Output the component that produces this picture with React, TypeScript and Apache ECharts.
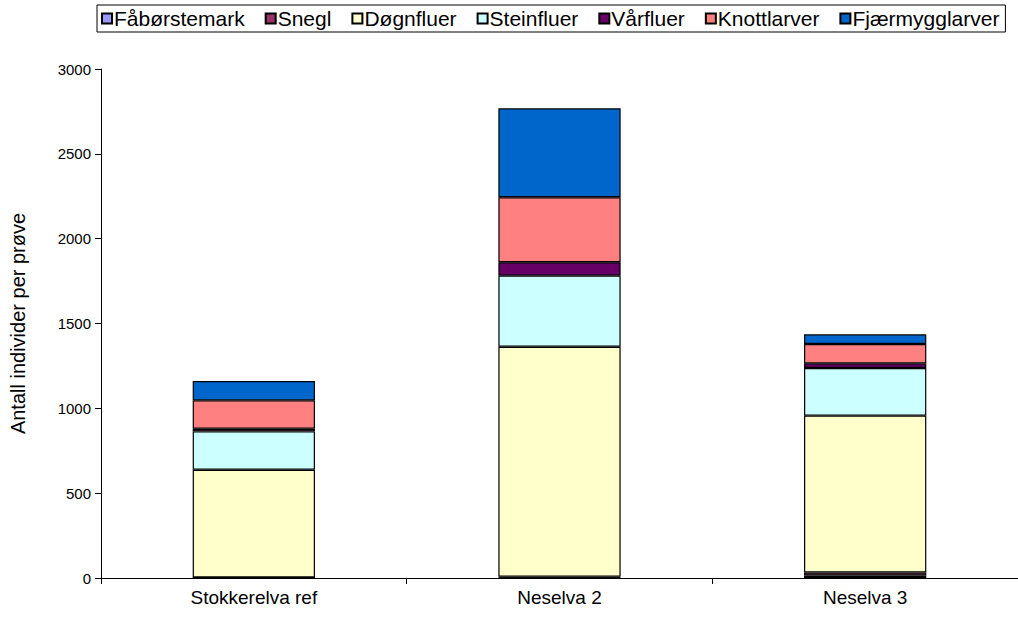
import React, { useEffect, useRef } from "react";
import * as echarts from "echarts";

const categories = ["Stokkerelva ref", "Neselva 2", "Neselva 3"];
const seriesNames = ["Fåbørstemark", "Snegl", "Døgnfluer", "Steinfluer", "Vårfluer", "Knottlarver", "Fjærmygglarver"];
const faborstemark = [1, 2, 15];
const snegl = [2, 5, 17];
const dognfluer = [635, 1356, 925];
const steinfluer = [226, 419, 281];
const varfluer = [16, 79, 27];
const knottlarver = [167, 383, 114];
const fjaermygglarver = [114, 524, 57];
const yTicks = [0, 500, 1000, 1500, 2000, 2500, 3000];

const colors = ["#9999FF", "#993366", "#FFFFCC", "#CCFFFF", "#660066", "#FF8080", "#0066CC"];
const values = [faborstemark, snegl, dognfluer, steinfluer, varfluer, knottlarver, fjaermygglarver];

export default function App() {
  const ref = useRef<HTMLDivElement>(null);
  useEffect(() => {
    if (!ref.current) return;
    const chart = echarts.init(ref.current, null, { renderer: "svg" });
    const font = "Liberation Sans, Arial, sans-serif";
    chart.setOption({
      animation: false,
      textStyle: { fontFamily: font },
      legend: {
        left: 97,
        top: 5,
        padding: [3, 6, 3, 4],
        borderColor: "#000",
        borderWidth: 1,
        icon: "rect",
        itemWidth: 10,
        itemHeight: 10,
        itemGap: 20,
        textStyle: { fontSize: 21, lineHeight: 21, color: "#000", fontFamily: font, padding: [0, 0, 0, -3] },
        data: seriesNames,
      },
      grid: { left: 101, right: -7, top: 69, bottom: 40 },
      xAxis: {
        type: "category",
        data: categories,
        axisLine: { lineStyle: { color: "#000", width: 1 } },
        axisTick: { show: true, length: 6, lineStyle: { color: "#000" } },
        axisLabel: { color: "#000", fontSize: 19, margin: 10, fontFamily: font },
      },
      yAxis: {
        type: "value",
        min: yTicks[0],
        max: yTicks[yTicks.length - 1],
        interval: 500,
        name: "Antall individer per prøve",
        nameLocation: "middle",
        nameGap: 73,
        nameRotate: 90,
        nameTextStyle: { color: "#000", fontSize: 20, fontFamily: font },
        axisLine: { show: true, lineStyle: { color: "#000", width: 1 } },
        axisTick: { show: true, length: 6, lineStyle: { color: "#000" } },
        axisLabel: { color: "#000", fontSize: 15, margin: 10, fontFamily: font, formatter: (v: number) => String(v) },
        splitLine: { show: false },
      },
      series: seriesNames.map((name, i) => ({
        name,
        type: "bar",
        stack: "total",
        barWidth: "40%",
        data: values[i],
        itemStyle: { color: colors[i], borderColor: "#000", borderWidth: 1.2 },
      })),
    });
    return () => chart.dispose();
  }, []);
  return <div ref={ref} style={{ position: "absolute", left: 0, top: 0, width: 1018, height: 618 }} />;
}
